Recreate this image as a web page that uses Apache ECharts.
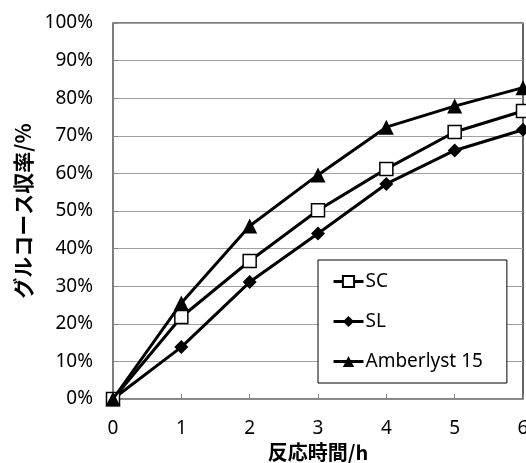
<!DOCTYPE html>
<html>
<head>
<meta charset="utf-8">
<script src="https://cdn.jsdelivr.net/npm/echarts@6/dist/echarts.min.js"></script>
<style>html,body{margin:0;padding:0;background:#fff}#c{width:526px;height:463px}</style>
</head>
<body>
<div id="c"></div>
<script>
const hours = [0, 1, 2, 3, 4, 5, 6];
const seriesNames = ['SC', 'SL', 'Amberlyst 15'];
const scValues = [0, 21.8, 36.7, 50.2, 61.2, 71.0, 76.6];
const slValues = [0, 13.8, 31.1, 44.0, 57.2, 66.1, 71.6];
const amberlystValues = [0, 25.5, 46.0, 59.6, 72.3, 77.9, 82.8];
const xAxisTitle = '反応時間/h';
const yAxisTitle = 'グルコース収率/%';

const font = '"Noto Sans", "Noto Sans CJK JP", sans-serif';
const cjk = '"Noto Sans CJK JP", "Noto Sans", sans-serif';

function pairs(vals) { return hours.map((h, i) => [h, vals[i]]); }

const chart = echarts.init(document.getElementById('c'), null, {renderer: 'canvas'});
const lineStyle = {color: '#000', width: 3};
chart.setOption({
  animation: false,
  backgroundColor: '#fff',
  grid: {left: 113, right: 3, top: 23, bottom: 64, show: true, borderColor: '#000', borderWidth: 1.2,
         backgroundColor: 'transparent', containLabel: false, outerBoundsMode: 'none'},
  legend: {
    orient: 'vertical', left: 318, top: 260,
    padding: [12, 24, 12, 14], itemGap: 21, itemWidth: 30, itemHeight: 14,
    backgroundColor: '#fff', borderColor: '#000', borderWidth: 1,
    lineStyle: {width: 3, color: '#000'},
    textStyle: {fontFamily: font, fontSize: 19, color: '#000', padding: [0, 0, 0, -3]},
    data: seriesNames
  },
  xAxis: {
    type: 'value', min: 0, max: 6, interval: 1,
    name: xAxisTitle, nameLocation: 'middle', nameGap: 42,
    nameTextStyle: {fontFamily: cjk, fontSize: 20, fontWeight: 'bold', color: '#000'},
    axisLine: {show: true, lineStyle: {color: '#868686', width: 1.5}},
    axisTick: {show: true, inside: true, length: 5, lineStyle: {color: '#868686'}},
    axisLabel: {fontFamily: font, fontSize: 19, color: '#000', margin: 20},
    splitLine: {show: false}
  },
  yAxis: {
    type: 'value', min: 0, max: 100, interval: 10,
    name: yAxisTitle, nameLocation: 'middle', nameGap: 57, nameRotate: 90,
    nameTextStyle: {fontFamily: cjk, fontSize: 21, fontWeight: 'bold', color: '#000'},
    axisLine: {show: true, lineStyle: {color: '#868686', width: 1.5}},
    axisTick: {show: true, inside: true, length: 5, lineStyle: {color: '#868686'}},
    axisLabel: {fontFamily: font, fontSize: 19, color: '#000', margin: 20, formatter: '{value}%'},
    splitLine: {show: true, lineStyle: {color: '#a0a0a0', width: 1.2}}
  },
  series: [
    {name: seriesNames[0], type: 'line', data: pairs(scValues), symbol: 'rect', symbolSize: 13,
     itemStyle: {color: '#fff', borderColor: '#000', borderWidth: 1.5}, lineStyle: lineStyle, z: 3},
    {name: seriesNames[1], type: 'line', data: pairs(slValues), symbol: 'diamond', symbolSize: 14,
     itemStyle: {color: '#000', borderColor: '#000', borderWidth: 0}, lineStyle: lineStyle, z: 2},
    {name: seriesNames[2], type: 'line', data: pairs(amberlystValues), symbol: 'triangle', symbolSize: 15,
     itemStyle: {color: '#000', borderColor: '#000', borderWidth: 0}, lineStyle: lineStyle, z: 4}
  ]
});
</script>
</body>
</html>
